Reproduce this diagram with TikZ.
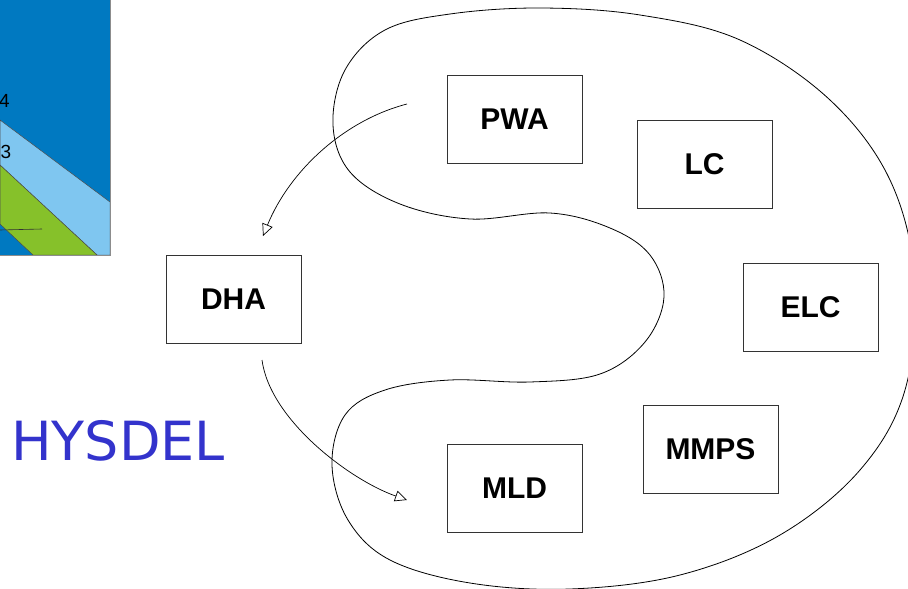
\documentclass[tikz,border=0pt]{standalone}
\usepackage{fontspec}
\setmainfont{Liberation Sans}
\newfontfamily\hysfont{DejaVu Sans}
\usepackage{tikz}
\usetikzlibrary{arrows.meta}

\definecolor{plotdark}{RGB}{0,121,193}
\definecolor{plotlight}{RGB}{127,198,240}
\definecolor{plotgreen}{RGB}{134,193,42}
\definecolor{hysblue}{RGB}{51,51,204}

\begin{document}
\begin{tikzpicture}[x=1pt, y=-1pt]

	\tikzstyle{box}=[draw=black!80, line width=0.8pt, minimum width=135pt, minimum height=88pt, font=\bfseries\fontsize{30}{36}\selectfont]
	\tikzstyle{flow}=[-{Triangle[open, length=12pt, width=11pt]}, line width=0.7pt]
	\tikzstyle{blob}=[line width=0.8pt]
	\tikzstyle{tick}=[anchor=west, inner sep=0pt, font=\rmfamily\fontsize{19}{22}\selectfont]

	\useasboundingbox (0,0) rectangle (908,589);

	% corner of the partition plot
	\begin{scope}
	\clip (0,0) rectangle (110,255);
	\fill[plotdark] (0,0) rectangle (110,255);
	\fill[plotlight, draw=black!70, line width=0.5pt] (0,120) -- (110,202) -- (110,255) -- (97,255) -- (0,165) -- cycle;
	\fill[plotgreen, draw=black!70, line width=0.5pt] (0,165) -- (97,255) -- (33,255) -- (0,224) -- cycle;
	\draw[black!80, line width=0.6pt] (0,230) -- (42,229);
	\node[tick] (lbl4) at (-1,101) {4};
	\node[tick] (lbl3) at (0.5,152) {3};
	\end{scope}
	\draw[black!45, line width=0.6pt] (110,0) -- (110,255) -- (0,255);

	% model classes
	\node[box] (pwa) at (514.5,119) {PWA};
	\node[box] (lc) at (704.5,164) {LC};
	\node[box] (elc) at (810.5,307) {ELC};
	\node[box] (dha) at (233.5,299) {DHA};
	\node[box] (mmps) at (710.5,449.5) {MMPS};
	\node[box] (mld) at (514.5,488) {MLD};

	\node[text=hysblue, font=\hysfont\fontsize{54}{60}\selectfont] (hysdel) at (118,441) {HYSDEL};

	% equivalence region
	\draw[blob] plot[smooth cycle, tension=0.6] coordinates {
		(540,8) (640,15) (740,40) (830,100) (890,180) (915,280) (905,390)
		(860,470) (780,535) (680,575) (570,589) (470,583) (390,560) (348,520)
		(332,465) (345,415) (385,390) (450,380) (530,382) (600,374) (645,342)
		(664,297) (650,255) (610,228) (550,213) (470,219) (400,204) (350,172)
		(333,125) (345,70) (385,30) (450,14)};

	% translations
	\coordinate (pwa_out) at (407,104);
	\coordinate (dha_in) at (263,236);
	\coordinate (dha_out) at (262,360);
	\coordinate (mld_in) at (407,500);

	\draw[flow] (pwa_out) .. controls (345,120) and (290,170) .. (dha_in);
	\draw[flow] (dha_out) .. controls (270,420) and (350,480) .. (mld_in);

\end{tikzpicture}
\end{document}
